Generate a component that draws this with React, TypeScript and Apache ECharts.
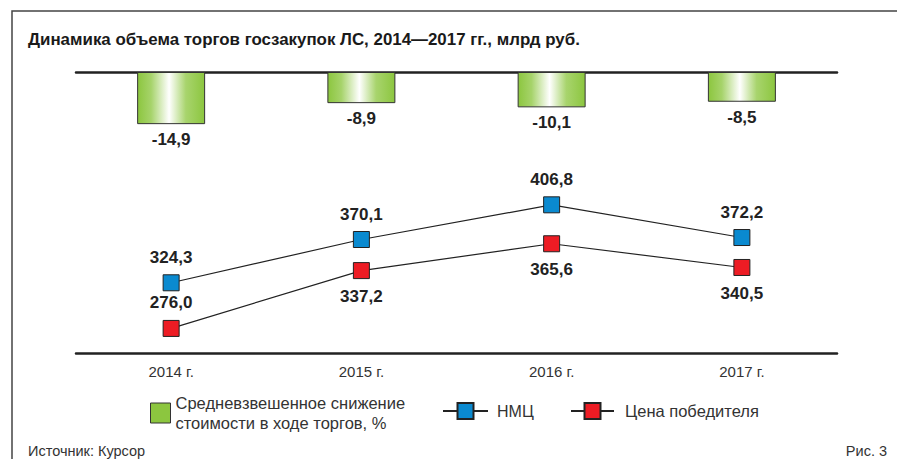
import React, { useEffect, useRef } from "react";
import * as echarts from "echarts";

const categories = ["2014 г.", "2015 г.", "2016 г.", "2017 г."];
const decline = [-14.9, -8.9, -10.1, -8.5];
const nmc = [324.3, 370.1, 406.8, 372.2];
const winner = [276.0, 337.2, 365.6, 340.5];
const winnerLabelPos = ["top", "bottom", "bottom", "bottom"];

const titleText = "Динамика объема торгов госзакупок ЛС, 2014—2017 гг., млрд руб.";
const nameDecline = "Средневзвешенное снижение\nстоимости в ходе торгов, %";
const nameNmc = "НМЦ";
const nameWinner = "Цена победителя";

const FONT = "'Liberation Sans', Arial, sans-serif";
const fmt = (v: number) => v.toFixed(1).replace(".", ",");

export default function App() {
  const ref = useRef<HTMLDivElement>(null);
  useEffect(() => {
    if (!ref.current) return;
    const chart = echarts.init(ref.current, null, { renderer: "svg" });
    const green = "#8cc63f";
    const dark = "#222222";
    const valueLabel = {
      fontFamily: FONT,
      fontSize: 17,
      fontWeight: "bold",
      color: "#222",
    };
    const option: any = {
      animation: false,
      backgroundColor: "#ffffff",
      textStyle: { fontFamily: FONT },
      title: {
        text: titleText,
        left: 28,
        top: 31,
        padding: 0,
        textStyle: { fontFamily: FONT, fontSize: 16.9, fontWeight: "bold", color: "#1a1a1a" },
      },
      legend: [
        {
          data: [{ name: nameDecline, itemStyle: { color: green, borderColor: "#333", borderWidth: 1 } }],
          left: 150,
          top: 393,
          padding: 0,
          icon: "rect",
          itemWidth: 20,
          itemHeight: 20,
          itemGap: 8,
          selectedMode: false,
          textStyle: { fontFamily: FONT, fontSize: 16.5, color: "#333", lineHeight: 20 },
        },
        {
          data: [nameNmc],
          left: 442,
          top: 402,
          padding: 0,
          itemWidth: 45,
          itemHeight: 20,
          itemGap: 8,
          selectedMode: false,
          textStyle: { fontFamily: FONT, fontSize: 16, color: "#333", padding: [0, 0, 0, 4] },
        },
        {
          data: [nameWinner],
          left: 570,
          top: 402,
          padding: 0,
          itemWidth: 43,
          itemHeight: 20,
          itemGap: 8,
          selectedMode: false,
          textStyle: { fontFamily: FONT, fontSize: 16.5, color: "#333", padding: [0, 0, 0, 6] },
        },
      ],
      grid: [
        { left: 76, width: 761, top: 72, height: 70 },
        { left: 76, width: 761, top: 164, height: 189 },
      ],
      xAxis: [
        {
          type: "category",
          gridIndex: 0,
          data: categories,
          position: "top",
          axisLine: { lineStyle: { color: dark, width: 2.5 } },
          axisTick: { inside: true, length: 6, lineStyle: { color: dark, width: 1.2 } },
          axisLabel: { show: false },
        },
        {
          type: "category",
          gridIndex: 1,
          data: categories,
          position: "bottom",
          axisLine: { lineStyle: { color: dark, width: 2.5 } },
          axisTick: { inside: true, length: 6, lineStyle: { color: dark, width: 1.2 } },
          axisLabel: { fontFamily: FONT, fontSize: 15, color: "#333", margin: 11 },
        },
      ],
      yAxis: [
        { type: "value", gridIndex: 0, min: -20, max: 0, show: false },
        { type: "value", gridIndex: 1, min: 250, max: 450, show: false },
      ],
      series: [
        {
          name: nameDecline,
          type: "bar",
          xAxisIndex: 0,
          yAxisIndex: 0,
          data: decline,
          barWidth: 68,
          itemStyle: {
            borderColor: "#333",
            borderWidth: 1,
            color: new echarts.graphic.LinearGradient(0, 0, 1, 0, [
              { offset: 0, color: "#8cc63f" },
              { offset: 0.2, color: "#a6d36a" },
              { offset: 0.47, color: "#ffffff" },
              { offset: 0.72, color: "#a8d46d" },
              { offset: 1, color: "#8cc63f" },
            ]),
          },
          label: {
            show: true,
            position: "bottom",
            distance: 7,
            formatter: (p: any) => fmt(p.value),
            ...valueLabel,
          },
        },
        {
          name: nameNmc,
          type: "line",
          xAxisIndex: 1,
          yAxisIndex: 1,
          data: nmc,
          symbol: "rect",
          symbolSize: 16,
          lineStyle: { color: dark, width: 1.2 },
          itemStyle: { color: "#0a8ad0", borderColor: dark, borderWidth: 1 },
          label: {
            show: true,
            position: "top",
            distance: 8,
            formatter: (p: any) => fmt(p.value),
            ...valueLabel,
          },
        },
        {
          name: nameWinner,
          type: "line",
          xAxisIndex: 1,
          yAxisIndex: 1,
          data: winner.map((v, i) => ({
            value: v,
            label: { position: winnerLabelPos[i] },
          })),
          symbol: "rect",
          symbolSize: 16,
          lineStyle: { color: dark, width: 1.2 },
          itemStyle: { color: "#ed1c24", borderColor: dark, borderWidth: 1 },
          label: {
            show: true,
            distance: 9,
            formatter: (p: any) => fmt(p.value),
            ...valueLabel,
          },
        },
      ],
      graphic: [
        {
          type: "polyline",
          shape: { points: [[12, 459], [12, 11], [897, 11]] },
          style: { stroke: "#444", lineWidth: 1.5, fill: null },
          silent: true,
        },
        {
          type: "text",
          left: 28,
          top: 443,
          style: { text: "Источник: Курсор", font: `14.5px ${FONT}`, fill: "#333" },
        },
        {
          type: "text",
          right: 10,
          top: 443,
          style: { text: "Рис. 3", font: `14.5px ${FONT}`, fill: "#333" },
        },
      ],
    };
    chart.setOption(option);
    return () => chart.dispose();
  }, []);
  return (
    <div
      ref={ref}
      style={{ position: "fixed", left: 0, top: 0, width: 897, height: 459, background: "#fff" }}
    />
  );
}
